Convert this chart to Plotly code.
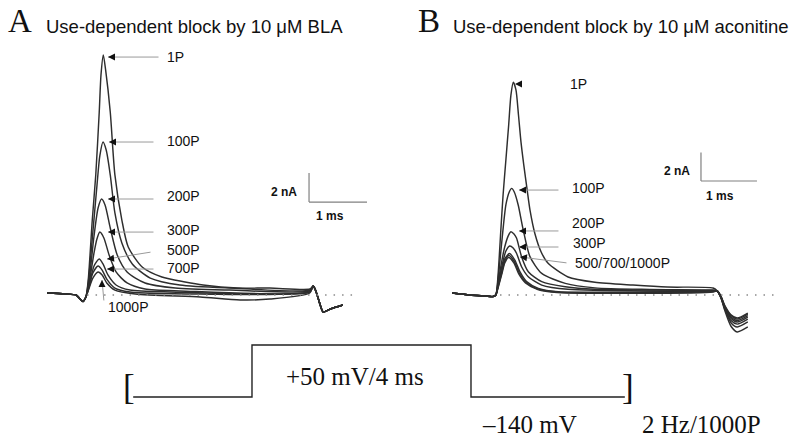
import plotly.graph_objects as go

# ---------------- DATA (time in ms, current in nA) ----------------
# Panel A : 10 uM BLA
A_pre_t = [-0.62, -0.31, -0.12, -0.05, 0.0, 0.05]
A_pre_i = [0.14, 0.07, 0.0, -0.28, -0.45, -0.14]
A_tail_t = [3.97, 4.02, 4.09, 4.14, 4.26, 4.48]
A_tail_i = [0.62, 0.21, -0.69, -1.17, -0.97, -0.69]

A_1P_t = [0.09, 0.16, 0.22, 0.28, 0.31, 0.35, 0.39, 0.47, 0.55, 0.67, 0.78, 1.02, 1.36, 1.76, 2.07, 2.66, 3.22, 3.91]
A_1P_i = [1.03, 5.17, 8.28, 12.62, 15.17, 16.55, 15.52, 12.62, 8.28, 5.17, 3.31, 1.93, 1.24, 0.90, 0.69, 0.48, 0.48, 0.41]
A_100P_t = [0.09, 0.17, 0.24, 0.29, 0.345, 0.40, 0.47, 0.55, 0.67, 0.85, 1.16, 1.67, 2.53, 3.91]
A_100P_i = [0.83, 4.34, 7.52, 9.59, 10.55, 10.0, 8.28, 5.66, 3.59, 2.14, 1.17, 0.69, 0.48, 0.34]
A_200P_t = [0.10, 0.19, 0.26, 0.32, 0.38, 0.47, 0.59, 0.76, 1.07, 1.59, 2.53, 3.91]
A_200P_i = [0.83, 4.07, 6.0, 6.62, 6.21, 4.62, 2.76, 1.59, 0.83, 0.48, 0.34, 0.28]
A_300P_t = [0.10, 0.19, 0.24, 0.29, 0.36, 0.45, 0.57, 0.76, 1.07, 1.67, 3.91]
A_300P_i = [0.69, 2.90, 3.86, 4.34, 3.93, 2.76, 1.59, 0.83, 0.41, 0.28, 0.21]
A_500P_t = [0.10, 0.19, 0.28, 0.345, 0.43, 0.57, 0.81, 1.50, 3.91]
A_500P_i = [0.55, 2.0, 2.48, 2.14, 1.38, 0.69, 0.34, 0.21, 0.21]
A_700P_t = [0.10, 0.17, 0.26, 0.33, 0.41, 0.55, 0.81, 2.02, 3.91]
A_700P_i = [0.48, 1.52, 2.0, 1.72, 1.10, 0.48, 0.21, 0.07, 0.21]
A_1000P_t = [0.10, 0.17, 0.26, 0.33, 0.41, 0.55, 0.90, 2.02, 2.71, 3.22, 3.91]
A_1000P_i = [0.41, 1.17, 1.59, 1.38, 0.83, 0.34, 0.07, -0.14, -0.34, -0.28, 0.14]

# Panel B : 10 uM aconitine
B_pre_t = [-0.73, -0.41, -0.14, 0.0, 0.05]
B_pre_i = [0.14, 0.0, -0.07, -0.11, 0.0]
B_tail_t = [4.0, 4.07, 4.14, 4.25, 4.36, 4.55]

B_1P_t = [0.09, 0.14, 0.18, 0.23, 0.28, 0.32, 0.363, 0.41, 0.455, 0.50, 0.55, 0.61, 0.66, 0.75, 0.86, 0.98, 1.34, 1.82, 2.5, 3.11, 3.93]
B_1P_i = [1.41, 4.58, 7.04, 9.51, 11.97, 14.08, 14.98, 14.44, 12.68, 10.77, 9.15, 7.4, 6.0, 4.3, 3.03, 2.25, 1.27, 0.9, 0.70, 0.56, 0.49]
B_1P_tail = [0.3, -0.2, -1.1, -2.2, -2.6, -2.25]
B_100P_t = [0.09, 0.16, 0.23, 0.29, 0.334, 0.38, 0.45, 0.54, 0.66, 0.87, 1.29, 1.82, 2.80, 3.93]
B_100P_i = [1.06, 3.87, 6.34, 7.25, 7.51, 7.25, 6.34, 4.58, 2.70, 1.52, 0.82, 0.5, 0.39, 0.35]
B_100P_tail = [0.3, -0.2, -1.0, -1.95, -2.25, -1.9]
B_200P_t = [0.09, 0.16, 0.21, 0.27, 0.32, 0.375, 0.42, 0.51, 0.63, 0.87, 1.29, 1.82, 3.93]
B_200P_i = [0.85, 2.46, 3.40, 4.15, 4.46, 4.30, 4.01, 2.70, 1.64, 0.94, 0.58, 0.40, 0.32]
B_200P_tail = [0.3, -0.15, -0.95, -1.8, -2.05, -1.7]
B_300P_t = [0.09, 0.16, 0.23, 0.30, 0.36, 0.42, 0.51, 0.63, 0.87, 1.34, 3.93]
B_300P_i = [0.70, 2.04, 3.10, 3.45, 3.31, 2.94, 1.99, 1.29, 0.70, 0.40, 0.28]
B_300P_tail = [0.3, -0.15, -0.9, -1.65, -1.9, -1.55]
B_500P_t = [0.09, 0.16, 0.21, 0.295, 0.39, 0.48, 0.60, 0.81, 1.17, 3.93]
B_500P_i = [0.63, 1.76, 2.54, 2.92, 2.46, 1.64, 0.94, 0.47, 0.23, 0.28]
B_500P_tail = [0.3, -0.1, -0.85, -1.55, -1.8, -1.45]
B_700P_t = [0.09, 0.16, 0.21, 0.286, 0.38, 0.47, 0.59, 0.80, 1.16, 3.93]
B_700P_i = [0.56, 1.62, 2.39, 2.78, 2.36, 1.55, 0.88, 0.42, 0.21, 0.25]
B_700P_tail = [0.3, -0.1, -0.8, -1.45, -1.7, -1.35]
B_1000P_t = [0.09, 0.16, 0.21, 0.277, 0.375, 0.46, 0.58, 0.80, 1.15, 3.93]
B_1000P_i = [0.49, 1.51, 2.25, 2.64, 2.25, 1.48, 0.85, 0.39, 0.18, 0.21]
B_1000P_tail = [0.3, -0.1, -0.75, -1.4, -1.62, -1.27]

# Voltage protocol (ms, mV)
proto_t = [-2.17, 0, 0, 4, 4, 6.81]
proto_v = [-140, -140, 50, 50, -140, -140]

A_labels = ["1P", "100P", "200P", "300P", "500P", "700P", "1000P"]
B_labels = ["1P", "100P", "200P", "300P", "500/700/1000P"]

# ---------------- FIGURE ----------------
W, H = 800, 442
def PX(x): return x / W
def PY(y): return 1 - y / H

TRACE = dict(color="#2e2e2e", width=1.45, shape="spline", smoothing=0.7)
fig = go.Figure()

A_sets = [(A_1P_t, A_1P_i), (A_100P_t, A_100P_i), (A_200P_t, A_200P_i), (A_300P_t, A_300P_i),
          (A_500P_t, A_500P_i), (A_700P_t, A_700P_i), (A_1000P_t, A_1000P_i)]
for name, (t, i) in zip(A_labels, A_sets):
    fig.add_trace(go.Scatter(x=A_pre_t + t + A_tail_t, y=A_pre_i + i + A_tail_i, mode="lines",
                             line=TRACE, name="A " + name, xaxis="x", yaxis="y", hoverinfo="skip"))

B_sets = [(B_1P_t, B_1P_i, B_1P_tail), (B_100P_t, B_100P_i, B_100P_tail), (B_200P_t, B_200P_i, B_200P_tail),
          (B_300P_t, B_300P_i, B_300P_tail), (B_500P_t, B_500P_i, B_500P_tail),
          (B_700P_t, B_700P_i, B_700P_tail), (B_1000P_t, B_1000P_i, B_1000P_tail)]
for k, (t, i, tl) in enumerate(B_sets):
    fig.add_trace(go.Scatter(x=B_pre_t + t + B_tail_t, y=B_pre_i + i + tl, mode="lines",
                             line=TRACE, name="B %d" % k, xaxis="x2", yaxis="y2", hoverinfo="skip"))

fig.add_trace(go.Scatter(x=proto_t, y=proto_v, mode="lines", line=dict(color="#222", width=1.4),
                         xaxis="x3", yaxis="y3", hoverinfo="skip", name="protocol"))

ax_hidden = dict(visible=False, fixedrange=True)
fig.update_layout(
    width=W, height=H, margin=dict(l=0, r=0, t=0, b=0),
    paper_bgcolor="white", plot_bgcolor="rgba(0,0,0,0)", showlegend=False,
    xaxis=dict(domain=[0.05, 0.475], range=[-0.7414, 5.1207], **ax_hidden),
    yaxis=dict(domain=[PY(335), PY(40)], range=[-2.7586, 17.586], **ax_hidden),
    xaxis2=dict(domain=[0.55, 0.99375], range=[-0.9464, 5.3929], anchor="y2", **ax_hidden),
    yaxis2=dict(domain=[PY(335), PY(40)], range=[-2.8169, 17.958], anchor="x2", **ax_hidden),
    xaxis3=dict(domain=[0.125, 0.975], range=[-2.776, 9.644], anchor="y3", **ax_hidden),
    yaxis3=dict(domain=[PY(440), PY(335)], range=[-297.1, 86.5], anchor="x3", **ax_hidden),
)

shapes = []
# dotted baselines
shapes.append(dict(type="line", xref="x", yref="y", x0=0.07, x1=4.72, y0=0, y1=0,
                   line=dict(color="#8a8a8a", width=1.4, dash="1.5px,7px")))
shapes.append(dict(type="line", xref="x2", yref="y2", x0=0.125, x1=5.125, y0=0, y1=0,
                   line=dict(color="#8a8a8a", width=1.4, dash="1.5px,7px")))
# scale bars
SB = dict(color="#808080", width=1.2)
shapes += [
    dict(type="line", xref="x", yref="y", x0=3.897, x1=3.897, y0=6.41, y1=8.41, line=SB),
    dict(type="line", xref="x", yref="y", x0=3.897, x1=4.897, y0=6.41, y1=6.41, line=SB),
    dict(type="line", xref="x2", yref="y2", x0=3.714, x1=3.714, y0=8.03, y1=10.03, line=SB),
    dict(type="line", xref="x2", yref="y2", x0=3.714, x1=4.714, y0=8.03, y1=8.03, line=SB),
]
fig.update_layout(shapes=shapes)

ann = []
SANS = "Liberation Sans, Arial, sans-serif"
SERIF = "Liberation Serif, Times New Roman, serif"

def label(xr, yr, x, y, text, size=14):
    ann.append(dict(xref=xr, yref=yr, x=x, y=y, text=text, showarrow=False, xanchor="left",
                    yanchor="middle", font=dict(family=SANS, size=size, color="#111")))

def arrow(xr, yr, hx, hy, tx, ty, hdx, hdy, line=True):
    if line:
        ann.append(dict(xref=xr, yref=yr, x=hx, y=hy, axref=xr, ayref=yr, ax=tx, ay=ty, text="",
                        showarrow=True, arrowhead=0, arrowwidth=1, arrowcolor="#9a9a9a", standoff=0))
    ann.append(dict(xref=xr, yref=yr, x=hx, y=hy, ax=hdx, ay=hdy, text="", showarrow=True,
                    arrowhead=2, arrowsize=1, arrowwidth=1.4, arrowcolor="#111", standoff=0))

# Panel A labels + arrows
A_lab_pos = [(1.41, 16.41), (1.41, 10.62), (1.41, 6.83), (1.41, 4.48), (1.41, 3.10), (1.41, 1.86), (0.395, -0.83)]
for txt, (x, y) in zip(A_labels, A_lab_pos):
    label("x", "y", x, y, txt)
arrow("x", "y", 0.431, 16.41, 1.328, 16.41, 8, 0)
arrow("x", "y", 0.448, 10.55, 1.241, 10.55, 8, 0)
arrow("x", "y", 0.431, 6.62, 1.241, 6.62, 8, 0)
arrow("x", "y", 0.431, 4.34, 1.241, 4.34, 8, 0)
arrow("x", "y", 0.414, 2.48, 1.19, 2.97, 8, -1)
arrow("x", "y", 0.414, 1.79, 1.241, 1.79, 8, 0)
arrow("x", "y", 0.328, 1.03, 0.362, -0.48, 0, 8)

# Panel B labels + arrows
B_lab_pos = [(1.34, 14.86), (1.375, 7.54), (1.375, 5.07), (1.39, 3.66), (1.43, 2.25)]
for txt, (x, y) in zip(B_labels, B_lab_pos):
    label("x2", "y2", x, y, txt)
arrow("x2", "y2", 0.393, 14.86, 0, 0, 8, 0, line=False)
arrow("x2", "y2", 0.464, 7.39, 1.196, 7.39, 8, 0)
arrow("x2", "y2", 0.464, 4.51, 1.196, 4.51, 8, 0)
arrow("x2", "y2", 0.464, 3.38, 1.196, 3.38, 8, 0)
arrow("x2", "y2", 0.482, 2.68, 1.339, 2.25, 8, 1)

# scale bar texts
for xr, yr, x, y, t in [("x", "y", 3.46, 7.1, "2 nA"), ("x", "y", 4.25, 5.45, "1 ms"),
                        ("x2", "y2", 3.29, 8.73, "2 nA"), ("x2", "y2", 4.05, 7.0, "1 ms")]:
    ann.append(dict(xref=xr, yref=yr, x=x, y=y, text="<b>%s</b>" % t, showarrow=False,
                    xanchor="center", yanchor="middle", font=dict(family=SANS, size=12, color="#111")))

# panel titles
ann.append(dict(xref="paper", yref="paper", x=PX(6), y=PY(21), text="A", showarrow=False,
                xanchor="left", yanchor="middle", font=dict(family=SERIF, size=33, color="#111")))
ann.append(dict(xref="paper", yref="paper", x=PX(44), y=PY(26), text="Use-dependent block by 10 \u03bcM BLA",
                showarrow=False, xanchor="left", yanchor="middle", font=dict(family=SANS, size=18.5, color="#111")))
ann.append(dict(xref="paper", yref="paper", x=PX(416), y=PY(21), text="B", showarrow=False,
                xanchor="left", yanchor="middle", font=dict(family=SERIF, size=33, color="#111")))
ann.append(dict(xref="paper", yref="paper", x=PX(451), y=PY(26), text="Use-dependent block by 10 \u03bcM aconitine",
                showarrow=False, xanchor="left", yanchor="middle", font=dict(family=SANS, size=18.5, color="#111")))

# protocol texts
SER = dict(family=SERIF, size=25, color="#111")
C = dict(xref="paper", yref="paper", showarrow=False, xanchor="center", yanchor="middle")
ann.append(dict(C, x=PX(129), y=PY(387), text="[", font=dict(family=SERIF, size=35, color="#111")))
ann.append(dict(C, x=PX(628), y=PY(387), text="]", font=dict(family=SERIF, size=35, color="#111")))
ann.append(dict(C, x=PX(355), y=PY(376), text="+50 mV/4 ms", font=SER))
ann.append(dict(C, x=PX(529), y=PY(424), text="\u2013140 mV", font=SER))
ann.append(dict(C, x=PX(701), y=PY(424), text="2 Hz/1000P", font=SER))

fig.update_layout(annotations=ann)
fig.write_html("out.html", config={"displayModeBar": False},
               post_script="document.body.style.margin='0';document.body.style.overflow='hidden';")
